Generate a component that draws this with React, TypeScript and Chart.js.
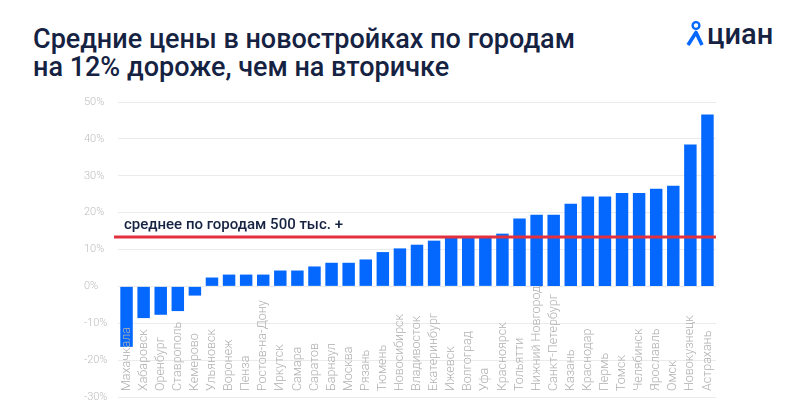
import React, { useEffect, useRef } from "react";
import { Chart, registerables } from "chart.js";

Chart.register(...registerables);

const titleLines = ["Средние цены в новостройках по городам", "на 12% дороже, чем на вторичке"];
const logoText = "циан";

const cities = [
  "Махачкала", "Хабаровск", "Оренбург", "Ставрополь", "Кемерово", "Ульяновск", "Воронеж", "Пенза",
  "Ростов-на-Дону", "Иркутск", "Самара", "Саратов", "Барнаул", "Москва", "Рязань", "Тюмень",
  "Новосибирск", "Владивосток", "Екатеринбург", "Ижевск", "Волгоград", "Уфа", "Красноярск", "Тольятти",
  "Нижний Новгород", "Санкт-Петербург", "Казань", "Краснодар", "Пермь", "Томск", "Челябинск", "Ярославль",
  "Омск", "Новокузнецк", "Астрахань",
];

const priceGap = [
  -16.4, -8.6, -7.7, -6.7, -2.5, 2.4, 3.2, 3.2,
  3.2, 4.3, 4.3, 5.4, 6.4, 6.4, 7.3, 9.3,
  10.3, 11.3, 12.4, 13.2, 13.2, 13.2, 14.3, 18.4,
  19.4, 19.4, 22.4, 24.4, 24.4, 25.3, 25.3, 26.5,
  27.3, 38.5, 46.6,
];

const averageLevel = 13.4;
const averageLabel = "среднее по городам 500 тыс. +";

const yMin = -30;
const yMax = 50;
const yStep = 10;

const BLUE = "#0468FF";
const RED = "#E3303F";
const DARK = "#152242";

const overlayPlugin = {
  id: "overlay",
  afterDatasetsDraw(chart: any) {
    const { ctx, chartArea, scales } = chart;
    const xs = scales.x;
    const ys = scales.y;
    ctx.save();
    ctx.font = "300 12.5px Roboto";
    ctx.fillStyle = "#b0b0b0";
    ctx.textAlign = "left";
    ctx.textBaseline = "middle";
    cities.forEach((c, i) => {
      const px = xs.getPixelForValue(i);
      ctx.save();
      ctx.translate(px, chartArea.bottom - 6);
      ctx.rotate(-Math.PI / 2);
      ctx.fillText(c, 0, 0);
      ctx.restore();
    });
    const ly = ys.getPixelForValue(averageLevel);
    ctx.strokeStyle = RED;
    ctx.lineWidth = 3;
    ctx.beginPath();
    ctx.moveTo(chartArea.left - 4, ly);
    ctx.lineTo(chartArea.right, ly);
    ctx.stroke();
    ctx.font = "500 15px Roboto";
    ctx.fillStyle = DARK;
    ctx.textBaseline = "middle";
    ctx.fillText(averageLabel, chartArea.left + 6, ly - 12);
    ctx.restore();
  },
};

function ChartCanvas() {
  const ref = useRef<HTMLCanvasElement>(null);
  useEffect(() => {
    if (!ref.current) return;
    const chart = new Chart(ref.current, {
      type: "bar",
      data: {
        labels: cities,
        datasets: [
          {
            data: priceGap,
            backgroundColor: BLUE,
            borderWidth: 0,
            barPercentage: 0.73,
            categoryPercentage: 1,
          },
        ],
      },
      options: {
        animation: false,
        responsive: false,
        maintainAspectRatio: false,
        layout: { padding: { left: 84, right: 84, top: 12, bottom: 13 } },
        plugins: { legend: { display: false }, tooltip: { enabled: false } },
        scales: {
          x: { display: false },
          y: {
            min: yMin,
            max: yMax,
            afterFit: (s: any) => {
              s.width = 34;
            },
            border: { display: false },
            grid: { color: "#ebebeb", lineWidth: 1, drawTicks: false },
            ticks: {
              stepSize: yStep,
              padding: 0,
              crossAlign: "far",
              color: "#bdbdbd",
              font: { family: "Roboto", size: 11, weight: "300" },
              callback: (v: any) => `${v}%`,
            },
          },
        },
      },
      plugins: [overlayPlugin],
    });
    return () => chart.destroy();
  }, []);
  return <canvas ref={ref} width={800} height={320} style={{ display: "block" }} />;
}

function Logo() {
  return (
    <div style={{ position: "absolute", left: 686, top: 20, display: "flex", alignItems: "flex-end" }}>
      <svg width="18" height="28" viewBox="0 0 18 28">
        <circle cx="10" cy="5.5" r="3.4" fill="none" stroke={BLUE} strokeWidth="2.4" />
        <path d="M2 25 L6.5 18 L10 12.5 L16 25" fill="none" stroke={BLUE} strokeWidth="3.6" strokeLinejoin="round" />
      </svg>
      <span
        style={{
          fontFamily: "Roboto",
          fontWeight: 500,
          fontSize: 29,
          lineHeight: "28px",
          color: DARK,
          marginLeft: 3,
        }}
      >
        {logoText}
      </span>
    </div>
  );
}

export default function App() {
  return (
    <div style={{ position: "absolute", left: 0, top: 0, width: 800, height: 420, background: "#fff", overflow: "hidden" }}>
      <div
        style={{
          position: "absolute",
          left: 33,
          top: 25,
          fontFamily: "Roboto",
          fontWeight: 500,
          fontSize: 27,
          lineHeight: "28px",
          color: DARK,
          whiteSpace: "nowrap",
        }}
      >
        {titleLines.map((t) => (
          <div key={t}>{t}</div>
        ))}
      </div>
      <Logo />
      <div style={{ position: "absolute", left: 0, top: 90 }}>
        <ChartCanvas />
      </div>
    </div>
  );
}
